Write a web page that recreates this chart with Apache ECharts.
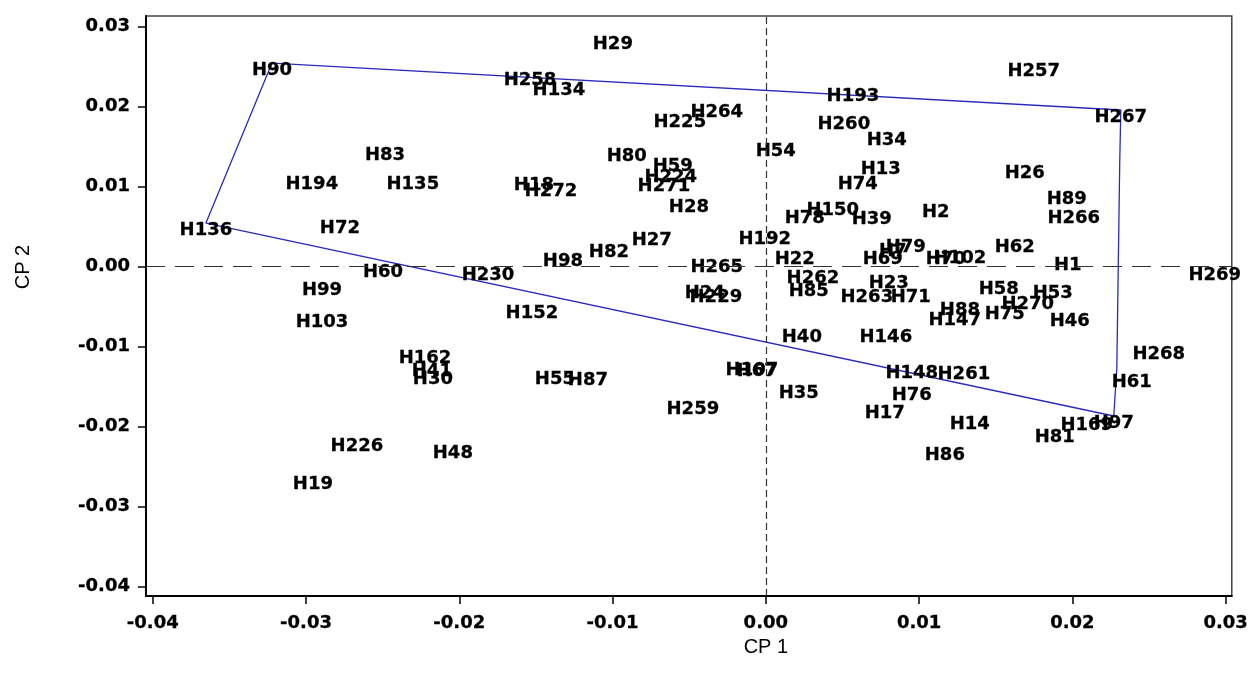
<!DOCTYPE html>
<html>
<head>
<meta charset="utf-8">
<script src="https://cdn.jsdelivr.net/npm/echarts@6/dist/echarts.min.js"></script>
<style>html,body{margin:0;padding:0;background:#fff;}#c{width:1251px;height:683px;}</style>
</head>
<body>
<div id="c"></div>
<script>
const labels = ["H29","H90","H83","H194","H135","H136","H72","H60","H99","H103","H226","H19","H162","H41","H30","H48","H152","H55","H87","H259","H107","H67","H35","H40","H24","H229","H265","H98","H82","H27","H230","H258","H134","H264","H225","H80","H59","H224","H271","H54","H28","H18","H272","H192","H22","H262","H85","H78","H150","H39","H193","H260","H34","H13","H74","H2","H257","H267","H26","H89","H266","H62","H1","H269","H69","H79","H7","H70","H102","H23","H263","H71","H58","H53","H270","H75","H88","H147","H46","H146","H148","H261","H76","H17","H14","H86","H81","H169","H97","H268","H61"];
const cp1 = [-0.00998,-0.03222,-0.02485,-0.02962,-0.02303,-0.03653,-0.02779,-0.02498,-0.02896,-0.02896,-0.02668,-0.02955,-0.02224,-0.02179,-0.02172,-0.02042,-0.01526,-0.01376,-0.01161,-0.00476,-0.00091,-0.00059,0.00215,0.00235,-0.00398,-0.00326,-0.00320,-0.01324,-0.01024,-0.00744,-0.01813,-0.01539,-0.01350,-0.00320,-0.00561,-0.00907,-0.00607,-0.00620,-0.00665,0.00065,-0.00502,-0.01513,-0.01402,-0.00007,0.00189,0.00307,0.00280,0.00254,0.00437,0.00691,0.00568,0.00509,0.00789,0.00750,0.00600,0.01109,0.01748,0.02316,0.01689,0.01963,0.02009,0.01624,0.01970,0.02929,0.00763,0.00913,0.00828,0.01174,0.01266,0.00802,0.00659,0.00946,0.01520,0.01872,0.01709,0.01559,0.01266,0.01233,0.01983,0.00783,0.00952,0.01292,0.00952,0.00776,0.01331,0.01168,0.01885,0.02094,0.02270,0.02564,0.02387];
const cp2 = [0.02871,0.02546,0.01484,0.01121,0.01121,0.00546,0.00571,0.00021,-0.00204,-0.00604,-0.02154,-0.02629,-0.01054,-0.01216,-0.01316,-0.02241,-0.00491,-0.01316,-0.01329,-0.01691,-0.01204,-0.01216,-0.01491,-0.00791,-0.00241,-0.00291,0.00084,0.00159,0.00271,0.00421,-0.00016,0.02421,0.02296,0.02021,0.01896,0.01471,0.01346,0.01209,0.01096,0.01534,0.00834,0.01109,0.01034,0.00434,0.00184,-0.00054,-0.00216,0.00696,0.00796,0.00684,0.02221,0.01871,0.01671,0.01309,0.01121,0.00771,0.02534,0.01959,0.01259,0.00934,0.00696,0.00334,0.00109,-0.00016,0.00184,0.00334,0.00284,0.00184,0.00196,-0.00116,-0.00291,-0.00291,-0.00191,-0.00241,-0.00379,-0.00504,-0.00454,-0.00579,-0.00591,-0.00791,-0.01241,-0.01254,-0.01516,-0.01741,-0.01879,-0.02266,-0.02041,-0.01891,-0.01866,-0.01004,-0.01354];
const hullCp1 = [-0.03222, 0.02316, 0.02309, 0.02290, 0.02270, -0.03653, -0.03222];
const hullCp2 = [0.02546, 0.01959, 0.01309, -0.01266, -0.01866, 0.00546, 0.02546];
const xTicks = [-0.04,-0.03,-0.02,-0.01,0.00,0.01,0.02,0.03];
const yTicks = [-0.04,-0.03,-0.02,-0.01,0.00,0.01,0.02,0.03];

const pts = labels.map((n,i)=>[cp1[i], cp2[i], n]);
const hull = hullCp1.map((x,i)=>[x, hullCp2[i]]);
const tickFont = {fontFamily:'DejaVu Sans', fontWeight:'bold', fontSize:18, color:'#000', textBorderColor:'#000', textBorderWidth:0.3};

const chart = echarts.init(document.getElementById('c'), null, {renderer:'canvas'});
chart.setOption({
  animation:false,
  backgroundColor:'#fff',
  grid:{left:146, right:19, top:16, bottom:87, show:true, borderColor:'#444', borderWidth:1.5},
  xAxis:{
    type:'value', min:-0.04044, max:0.0304,
    name:'CP 1', nameLocation:'middle', nameGap:41,
    nameTextStyle:{fontFamily:'Liberation Sans', fontSize:20, color:'#000', padding:[0,0,0,154]},
    axisLine:{onZero:false, lineStyle:{color:'#000', width:2}},
    axisTick:{show:true, length:8, customValues:xTicks, lineStyle:{color:'#000', width:1.5}},
    axisLabel:Object.assign({customValues:xTicks, margin:18, formatter:v=>v.toFixed(2)}, tickFont),
    splitLine:{show:false}
  },
  yAxis:{
    type:'value', min:-0.04116, max:0.03134,
    name:'CP 2', nameLocation:'middle', nameGap:113, nameRotate:90,
    nameTextStyle:{fontFamily:'Liberation Sans', fontSize:20, color:'#000', padding:[0,0,0,78]},
    axisLine:{onZero:false, lineStyle:{color:'#000', width:2}},
    axisTick:{show:true, length:8, customValues:yTicks, lineStyle:{color:'#000', width:1.5}},
    axisLabel:Object.assign({customValues:yTicks, margin:16, formatter:v=>v.toFixed(2)}, tickFont),
    splitLine:{show:false}
  },
  series:[
    {
      type:'line', data:hull, symbol:'none', silent:true, z:3,
      lineStyle:{color:'#2a2abd', width:1.3},
      markLine:{
        silent:true, symbol:['none','none'], label:{show:false},
        data:[
          {xAxis:0, lineStyle:{type:[7,4], color:'#333', width:1.2}},
          {yAxis:0, lineStyle:{type:[19,10], color:'#333', width:1.2}}
        ]
      }
    },
    {
      type:'scatter', data:pts, symbolSize:0.01, z:4, silent:true,
      itemStyle:{color:'#000', opacity:1},
      emphasis:{disabled:true},
      label:{show:true, position:'bottom', distance:-1.5, formatter:p=>p.data[2], opacity:1,
        fontFamily:'DejaVu Sans', fontWeight:'bold', fontSize:18, color:'#000',
        textBorderColor:'#000', textBorderWidth:0.3}
    }
  ]
});
</script>
</body>
</html>
